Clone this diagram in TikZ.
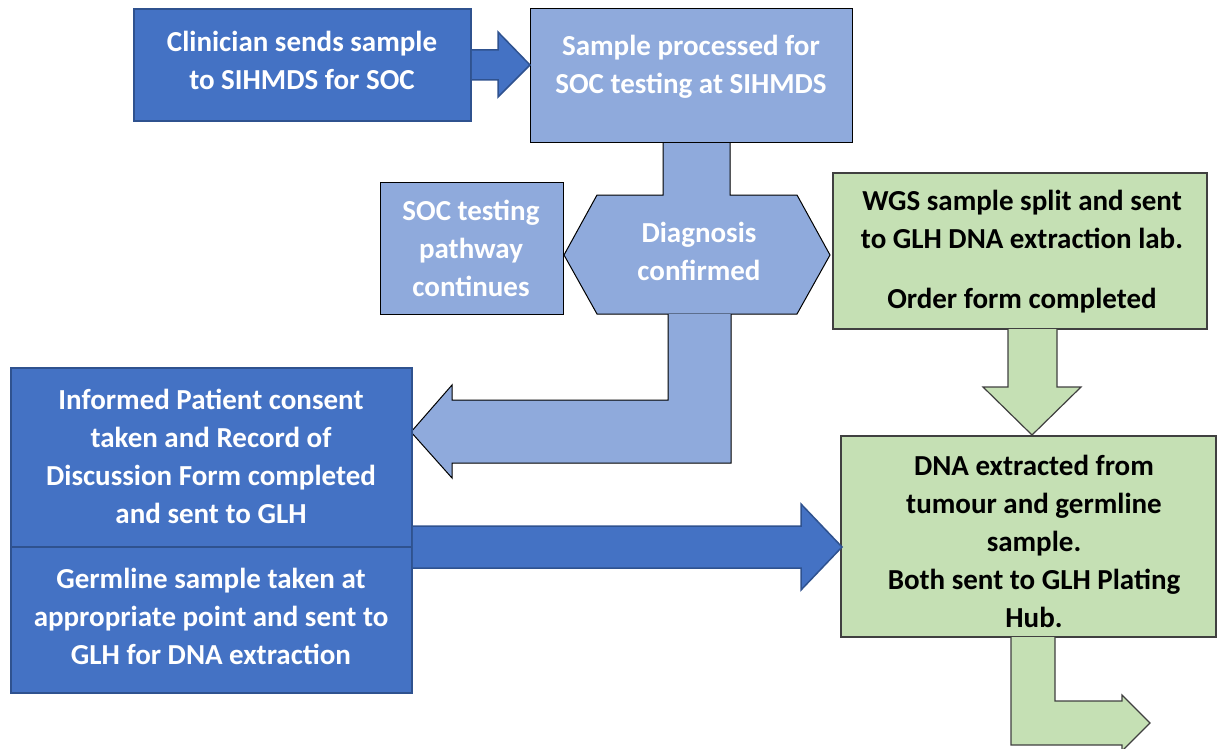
\documentclass[tikz,border=0pt]{standalone}
\usepackage{fontspec}
\setmainfont{Carlito}
\definecolor{dblue}{HTML}{4472C4}
\definecolor{dbluel}{HTML}{2F528F}
\definecolor{lblue}{HTML}{8FAADC}
\definecolor{lgreen}{HTML}{C5E0B4}
\definecolor{gline}{HTML}{404040}
\tikzset{
  dbox/.style={draw=dbluel,line width=1.5pt,fill=dblue,inner sep=0pt,text=white,font=\bfseries\fontsize{29}{38}\selectfont,align=center},
  lbox/.style={draw=black,line width=1pt,fill=lblue,inner sep=0pt,text=white,font=\bfseries\fontsize{29}{38}\selectfont,align=center},
  gbox/.style={draw=gline,line width=1.2pt,fill=lgreen,inner sep=0pt,text=black,font=\bfseries\fontsize{29}{38}\selectfont,align=center},
  txt/.style={inner sep=0pt,font=\bfseries\fontsize{29}{38}\selectfont,align=center},
  darr/.style={draw=dbluel,line width=1.5pt,fill=dblue,line join=miter},
  larr/.style={draw=black,line width=1pt,fill=lblue,line join=miter},
  garr/.style={draw=gline,line width=1.2pt,fill=lgreen,line join=miter}
}
\begin{document}
\begin{tikzpicture}[x=1pt,y=-1pt]
\useasboundingbox (0,0) rectangle (1218,749);
\begin{scope}
\clip (0,0) rectangle (1218,749);
% stem + hexagon
\path[larr] (663,143) -- (663,195) -- (597,195) -- (564,255) -- (597,314) -- (797,314) -- (830,255) -- (797,195) -- (730,195) -- (730,143);
% bent arrow to informed box
\path[larr] (668,314) -- (668,400) -- (452,400) -- (452,385) -- (411,432) -- (452,478) -- (452,463) -- (731,463) -- (731,314);
% boxes
\node[dbox,minimum width=337pt,minimum height=112pt] (clin) at (302.5,65) {};
\node[txt,text=white] (clint) at (302,60) {Clinician sends sample\\to SIHMDS for SOC};
\node[lbox,minimum width=322pt,minimum height=134pt] (proc) at (691,76) {};
\node[txt,text=white] (proct) at (691,67) {Sample processed for\\SOC testing at SIHMDS};
\node[lbox,minimum width=183pt,minimum height=132pt] (soc) at (471.5,248) {};
\node[txt,text=white] (soct) at (471,248) {SOC testing\\pathway\\continues};
\node[txt,text=white] (diag) at (699,251) {Diagnosis\\confirmed};
\node[gbox,minimum width=374pt,minimum height=156pt] (wgs) at (1020,251) {};
\node[txt] (wgst) at (1022,252) {WGS sample split and sent\\to GLH DNA extraction lab.\\[22pt]Order form completed};
\node[gbox,minimum width=375pt,minimum height=201pt] (dna) at (1028.5,536.5) {};
\node[txt] (dnat) at (1034,541) {DNA extracted from\\tumour and germline\\sample.\\Both sent to GLH Plating\\Hub.};
\node[dbox,minimum width=401pt,minimum height=179pt] (inf) at (211.5,457.5) {};
\node[txt,text=white] (inft) at (211,456) {Informed Patient consent\\taken and Record of\\Discussion Form completed\\and sent to GLH};
\node[dbox,minimum width=401pt,minimum height=146pt] (germ) at (211.5,620) {};
\node[txt,text=white] (germt) at (211,616) {Germline sample taken at\\appropriate point and sent to\\GLH for DNA extraction};
% arrows
\path[darr] (clin.east|-0,50) -- (498,50) -- (498,32) -- (530,65) -- (498,97) -- (498,80) -- (clin.east|-0,80);
\path[darr] (inf.east|-0,526) -- (801,526) -- (801,504) -- (842,547) -- (801,590) -- (801,568) -- (germ.east|-0,568);
\path[garr] (1008,329) -- (1008,387) -- (983,387) -- (1032,435) -- (1081,387) -- (1057,387) -- (1057,329);
\path[garr] (1011,637) -- (1011,745) -- (1122,745) -- (1122,751) -- (1150,723) -- (1122,695) -- (1122,701) -- (1055,701) -- (1055,637);
\end{scope}
\end{tikzpicture}
\end{document}
